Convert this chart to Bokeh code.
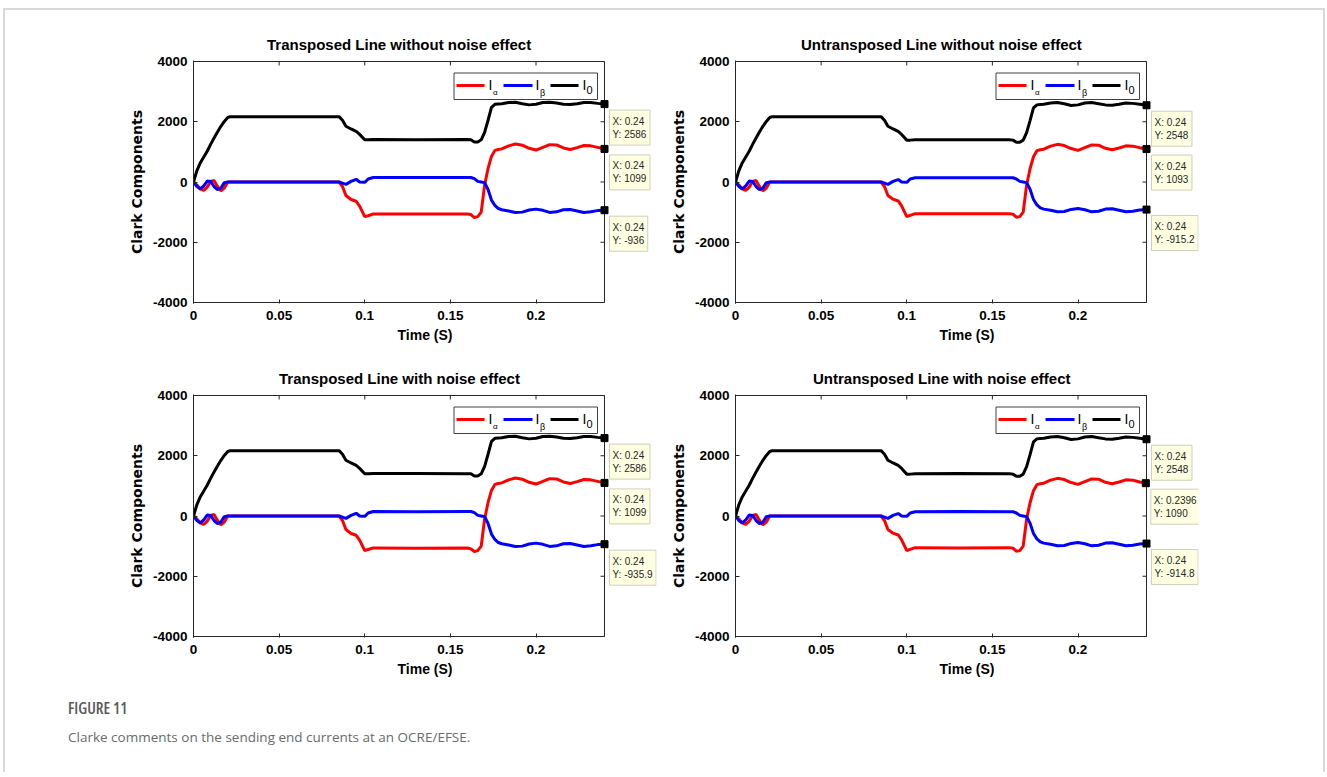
from bokeh.plotting import figure
from bokeh.layouts import column, row
from bokeh.models import Spacer, Div, FixedTicker, Range1d
from bokeh.embed import file_html
from bokeh.resources import INLINE
from bokeh.core.properties import value

# ---------------- data ----------------
time_s = [0, 0.002, 0.004, 0.006, 0.008, 0.010, 0.012, 0.014, 0.016, 0.018,
          0.020, 0.0215, 0.085, 0.087, 0.089, 0.092, 0.095, 0.097, 0.100, 0.102,
          0.105, 0.130, 0.160, 0.162, 0.164, 0.166, 0.168, 0.170, 0.172, 0.174,
          0.176, 0.178, 0.180, 0.184, 0.188, 0.192, 0.196, 0.200, 0.204, 0.208,
          0.212, 0.216, 0.220, 0.224, 0.228, 0.232, 0.236, 0.240]

panel_titles = ["Transposed Line without noise effect",
                "Untransposed Line without noise effect",
                "Transposed Line with noise effect",
                "Untransposed Line with noise effect"]

x_ticks = [0, 0.05, 0.1, 0.15, 0.2]
x_tick_labels = ["0", "0.05", "0.1", "0.15", "0.2"]
y_ticks = [-4000, -2000, 0, 2000, 4000]
y_tick_labels = ["-4000", "-2000", "0", "2000", "4000"]
x_min, x_max = 0.0, 0.24
y_min, y_max = -4000.0, 4000.0

# Transposed, without noise
tl_i_alpha = [0, -100, -230, -280, -170, 20, 50, -150, -290, -200,
              0, 0, 0, -150, -450, -580, -640, -800, -1150, -1120,
              -1060, -1060, -1060, -1080, -1180, -1150, -1000, -100, 450, 850,
              1050, 1080, 1100, 1200, 1260, 1220, 1120, 1060, 1150, 1240,
              1230, 1130, 1080, 1140, 1210, 1200, 1150, 1099]
tl_i_beta = [0, -150, -230, -130, 30, 20, -150, -250, -200, -20,
             0, 0, 0, -40, -80, 20, 90, 0, -10, 100,
             150, 150, 150, 150, 110, 20, 0, -20, -250, -600,
             -780, -880, -920, -960, -1010, -1000, -930, -900, -940, -1010,
             -990, -920, -910, -960, -1010, -990, -950, -936]
tl_i_zero = [0, 380, 640, 830, 1020, 1250, 1460, 1660, 1850, 2010,
             2140, 2170, 2170, 2050, 1850, 1760, 1680, 1580, 1400, 1400,
             1410, 1400, 1410, 1400, 1330, 1330, 1400, 1650, 2050, 2480,
             2580, 2590, 2600, 2640, 2650, 2600, 2560, 2580, 2640, 2650,
             2620, 2580, 2570, 2600, 2640, 2640, 2610, 2586]

# Untransposed, without noise
tr_i_alpha = [0, -100, -230, -280, -170, 20, 50, -150, -290, -200,
              0, 0, 0, -150, -450, -570, -630, -790, -1150, -1110,
              -1050, -1050, -1050, -1070, -1170, -1150, -1000, -100, 440, 840,
              1040, 1070, 1090, 1190, 1250, 1210, 1110, 1050, 1140, 1230,
              1220, 1120, 1070, 1130, 1200, 1190, 1140, 1093]
tr_i_beta = [0, -150, -230, -130, 30, 20, -150, -250, -200, -20,
             0, 0, 0, -40, -80, 20, 80, 0, -10, 100,
             140, 140, 140, 140, 100, 20, 0, -20, -240, -580,
             -760, -860, -900, -940, -990, -980, -910, -880, -920, -990,
             -970, -900, -890, -940, -990, -970, -930, -915.2]
tr_i_zero = [0, 380, 640, 830, 1020, 1250, 1460, 1660, 1850, 2010,
             2140, 2170, 2170, 2050, 1850, 1760, 1680, 1580, 1390, 1390,
             1400, 1400, 1400, 1390, 1320, 1320, 1390, 1640, 2040, 2460,
             2560, 2570, 2580, 2620, 2640, 2600, 2540, 2560, 2620, 2640,
             2600, 2560, 2550, 2580, 2620, 2610, 2580, 2548]

# Transposed, with noise
bl_i_alpha = [0, -100, -230, -280, -170, 20, 50, -150, -290, -200,
              0, 0, 0, -150, -450, -580, -640, -800, -1150, -1110,
              -1060, -1070, -1060, -1090, -1180, -1150, -1000, -100, 450, 850,
              1050, 1080, 1100, 1200, 1260, 1220, 1120, 1060, 1150, 1240,
              1230, 1130, 1080, 1140, 1210, 1200, 1150, 1099]
bl_i_beta = [0, -150, -230, -130, 30, 20, -150, -250, -200, -20,
             0, 0, 0, -40, -80, 20, 90, 0, -10, 100,
             150, 140, 150, 150, 110, 20, 0, -20, -250, -600,
             -780, -880, -920, -960, -1010, -1000, -930, -900, -940, -1010,
             -990, -920, -910, -960, -1010, -990, -950, -935.9]
bl_i_zero = [0, 380, 640, 830, 1020, 1250, 1460, 1660, 1850, 2010,
             2140, 2170, 2170, 2050, 1850, 1760, 1680, 1580, 1400, 1400,
             1410, 1410, 1400, 1400, 1330, 1330, 1400, 1650, 2050, 2480,
             2580, 2590, 2600, 2640, 2650, 2600, 2560, 2580, 2640, 2650,
             2620, 2580, 2570, 2600, 2640, 2640, 2610, 2586]

# Untransposed, with noise
br_i_alpha = [0, -100, -230, -280, -170, 20, 50, -150, -290, -200,
              0, 0, 0, -150, -450, -570, -630, -790, -1150, -1110,
              -1050, -1060, -1050, -1070, -1170, -1150, -1000, -100, 440, 840,
              1040, 1070, 1090, 1190, 1250, 1210, 1110, 1050, 1140, 1230,
              1220, 1120, 1070, 1130, 1200, 1190, 1130, 1090]
br_i_beta = [0, -150, -230, -130, 30, 20, -150, -250, -200, -20,
             0, 0, 0, -40, -80, 20, 80, 0, -10, 100,
             140, 150, 140, 140, 100, 20, 0, -20, -240, -580,
             -760, -860, -900, -940, -990, -980, -910, -880, -920, -990,
             -970, -900, -890, -940, -990, -970, -930, -914.8]
br_i_zero = [0, 380, 640, 830, 1020, 1250, 1460, 1660, 1850, 2010,
             2140, 2170, 2170, 2050, 1850, 1760, 1680, 1580, 1390, 1390,
             1400, 1410, 1400, 1390, 1320, 1320, 1390, 1640, 2040, 2460,
             2560, 2570, 2580, 2620, 2640, 2600, 2540, 2560, 2620, 2640,
             2600, 2560, 2550, 2580, 2620, 2610, 2580, 2548]

# data tips: I0, I_alpha, I_beta
tl_tip_x = [0.24, 0.24, 0.24]
tl_tip_y = [2586, 1099, -936]
tr_tip_x = [0.24, 0.24, 0.24]
tr_tip_y = [2548, 1093, -915.2]
bl_tip_x = [0.24, 0.24, 0.24]
bl_tip_y = [2586, 1099, -935.9]
br_tip_x = [0.24, 0.2396, 0.24]
br_tip_y = [2548, 1090, -914.8]

series_colors = ["#ff0000", "#0000ff", "#000000"]
legend_subs = ["\u03b1", "\u03b2", "0"]
caption_head = "FIGURE 11"
caption_text = "Clarke comments on the sending end currents at an OCRE/EFSE."

# ---------------- layout constants ----------------
BOX_W, BOX_H = 411, 241          # axes box in px
EXT_R = 52                       # extra frame width for data tips
FRAME_W, FRAME_H = BOX_W + EXT_R, BOX_H + 2
BL, BR, BB = 73, 4, 45
FIG_W = BL + FRAME_W + BR
AX_COL = "#262626"
FONT = "Liberation Sans"
TITLE_OFFSETS = [73.5, 65.5, 85.5, 77.5]

PX_X = (x_max - x_min) / BOX_W
PX_Y = (y_max - y_min) / BOX_H

CHAR_W10 = {"X": 6.67, "Y": 6.67, ":": 2.78, " ": 2.78, ".": 2.78, "-": 3.33}


def dx(px):
    return x_min + px * PX_X


def dy(px_from_top):
    return y_max - px_from_top * PX_Y


def text_w(s):
    return sum(CHAR_W10.get(ch, 5.56) for ch in s)


def style_axis(ax):
    ax.axis_line_color = AX_COL
    ax.major_tick_line_color = AX_COL
    ax.major_tick_in = 4
    ax.major_tick_out = 0
    ax.minor_tick_line_color = None
    ax.major_label_text_font = FONT
    ax.major_label_text_font_style = "bold"
    ax.major_label_text_color = "#000000"
    ax.major_label_text_font_size = "13.5px"


def make_panel(idx, ia, ib, i0, tip_x, tip_y, border_top):
    p = figure(width=FIG_W, height=border_top + FRAME_H + BB,
               x_range=Range1d(x_min, x_min + FRAME_W * PX_X),
               y_range=Range1d(y_min - PX_Y, y_max + PX_Y),
               output_backend="svg", toolbar_location=None,
               min_border_left=BL, min_border_right=BR,
               min_border_top=border_top, min_border_bottom=BB,
               outline_line_color=None, background_fill_color="white",
               border_fill_color="white")
    p.grid.visible = False
    p.title.text = panel_titles[idx]
    p.title.align = "left"
    p.title.offset = TITLE_OFFSETS[idx]
    p.title.text_font = FONT
    p.title.text_font_size = "15px"
    p.title.text_font_style = "bold"
    p.title.text_color = "#000000"
    p.title.standoff = 15

    p.xaxis.ticker = FixedTicker(ticks=x_ticks)
    p.xaxis.major_label_overrides = dict(zip(x_ticks, x_tick_labels))
    p.yaxis.ticker = FixedTicker(ticks=y_ticks)
    p.yaxis.major_label_overrides = dict(zip(y_ticks, y_tick_labels))
    for ax in p.xaxis + p.yaxis:
        style_axis(ax)
    p.xaxis.axis_line_color = None
    p.xaxis.major_label_standoff = 7
    p.xaxis.axis_label = "Time (S)"
    p.xaxis.axis_label_standoff = 4
    p.xaxis.axis_label_text_font = FONT
    p.xaxis.axis_label_text_font_size = "14px"
    p.xaxis.axis_label_text_font_style = "bold"
    p.xaxis.axis_label_text_color = "#000000"
    p.yaxis.major_label_standoff = 6
    p.yaxis.axis_label = "Clark Components"
    p.yaxis.axis_label_standoff = 5
    p.yaxis.axis_label_text_font = "DejaVu Sans"
    p.yaxis.axis_label_text_font_size = "14px"
    p.yaxis.axis_label_text_font_style = "bold"
    p.yaxis.axis_label_text_color = "#000000"

    # axes box with inward ticks on top and right
    p.quad(left=[x_min], right=[x_max], bottom=[y_min], top=[y_max],
           fill_color=None, line_color=AX_COL, line_width=1)
    p.segment(x0=x_ticks, x1=x_ticks, y0=[y_max] * len(x_ticks),
              y1=[dy(4)] * len(x_ticks), line_color=AX_COL, line_width=1)
    p.segment(x0=[x_max] * len(y_ticks), x1=[dx(BOX_W - 4)] * len(y_ticks),
              y0=y_ticks, y1=y_ticks, line_color=AX_COL, line_width=1)

    for ys, c in zip([ia, ib, i0], series_colors):
        p.line(time_s, ys, line_color=c, line_width=3)

    # legend (inside top-right of the axes box)
    p.quad(left=[dx(260.5)], right=[dx(404)], top=[dy(11.5)], bottom=[dy(38)],
           fill_color="white", line_color="#404040", line_width=1)
    p.segment(x0=[dx(263), dx(310), dx(357)], x1=[dx(291), dx(339), dx(385)],
              y0=[dy(24)] * 3, y1=[dy(24)] * 3,
              line_color=series_colors, line_width=3)
    p.text(x=[dx(295), dx(342), dx(389)], y=[dy(23.5)] * 3, text=["I", "I", "I"],
           text_font=value(FONT), text_font_size="14px", text_baseline="middle",
           text_align="left", text_color="#000000")
    p.text(x=[dx(299.5), dx(346.5), dx(393)], y=[dy(31), dy(31), dy(28)],
           text=legend_subs, text_font=value(FONT),
           text_font_size=["8px", "9px", "11px"], text_baseline="middle",
           text_align="left", text_color="#000000")

    # data tips
    p.scatter(tip_x, tip_y, marker="square", size=7, fill_color="black",
              line_color="black")
    for tx, ty in zip(tip_x, tip_y):
        l1 = "X: %g" % tx
        l2 = "Y: %g" % ty
        w = max(text_w(l1), text_w(l2)) + 6
        left = tx + 5 * PX_X
        top = ty - 6 * PX_Y
        p.quad(left=[left], right=[left + w * PX_X], top=[top],
               bottom=[top - 35 * PX_Y], fill_color="#ffffe1",
               line_color="#cfcfbd", line_width=1)
        p.text(x=[left + 3 * PX_X] * 2, y=[top - 11 * PX_Y, top - 24 * PX_Y],
               text=[l1, l2], text_font=value(FONT), text_font_size="10px",
               text_baseline="middle", text_align="left", text_color="#262626")
    return p


p_tl = make_panel(0, tl_i_alpha, tl_i_beta, tl_i_zero, tl_tip_x, tl_tip_y, 50)
p_tr = make_panel(1, tr_i_alpha, tr_i_beta, tr_i_zero, tr_tip_x, tr_tip_y, 50)
p_bl = make_panel(2, bl_i_alpha, bl_i_beta, bl_i_zero, bl_tip_x, bl_tip_y, 46)
p_br = make_panel(3, br_i_alpha, br_i_beta, br_i_zero, br_tip_x, br_tip_y, 46)

caption = Div(text=(
    '<div style="font-family:\'Open Sans\';color:#5a5a5a;padding-top:15px;">'
    '<div style="font-size:16px;font-weight:600;line-height:22px;font-stretch:75%%;">%s</div>'
    '<div style="font-size:13.5px;line-height:22px;margin-top:7px;color:#6a6a6a;">%s</div>'
    '</div>' % (caption_head, caption_text)), width=900, height=90,
    margin=(0, 0, 0, 63))

row1 = row(Spacer(width=115, height=10), p_tl, Spacer(width=2, height=10), p_tr,
           Spacer(width=121, height=10))
row2 = row(Spacer(width=115, height=10), p_bl, Spacer(width=2, height=10), p_br,
           Spacer(width=121, height=10))
root = column(row1, row2, caption, margin=(8, 0, 0, 3),
              styles={"border-top": "2px solid #d9d9d9",
                      "border-left": "2px solid #d9d9d9",
                      "border-right": "2px solid #d9d9d9"})

open("out.html", "w").write(file_html(root, INLINE))
